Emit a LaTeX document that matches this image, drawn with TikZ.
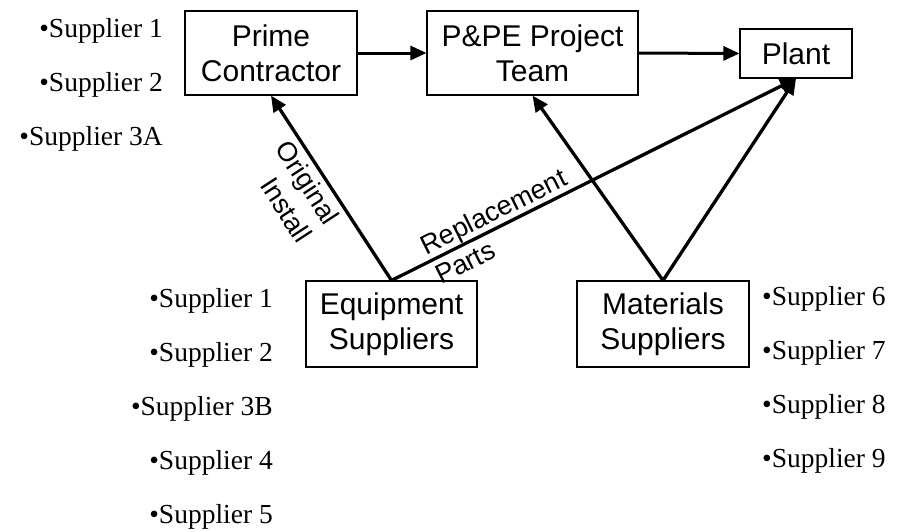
\documentclass[tikz,border=0pt]{standalone}
\usepackage{fontspec}
\setmainfont{Liberation Serif}
\setsansfont{Liberation Sans}
\usetikzlibrary{arrows.meta}
\begin{document}
\begin{tikzpicture}[x=1pt,y=-1pt,
  box/.style={draw, line width=1.1pt, inner sep=0pt, font=\sffamily\fontsize{30}{35}\selectfont, align=center},
  flow/.style={line width=3.3pt, -{Triangle[length=16pt,width=14pt]}},
  hflow/.style={line width=3pt, -{Triangle[length=16pt,width=14pt]}},
  lbl/.style={font=\sffamily\fontsize{27}{33}\selectfont, sloped},
  supl/.style={font=\fontsize{27.5}{30}\selectfont, inner sep=0pt, anchor=base east},
  supr/.style={font=\fontsize{27.5}{30}\selectfont, inner sep=0pt, anchor=base west}]
\useasboundingbox (0,0) rectangle (899,531);
\fill[white] (0,0) rectangle (899,531);

\node[box, minimum width=172pt, minimum height=84pt] (prime) at (271,53) {Prime\\Contractor};
\node[box, minimum width=211pt, minimum height=84pt] (team) at (532.5,53) {P\&PE Project\\Team};
\node[box, minimum width=112pt, minimum height=49pt] (plant) at (796,53.5) {Plant};
\node[box, minimum width=171pt, minimum height=86pt] (equip) at (391.5,324) {Equipment\\Suppliers};
\node[box, minimum width=172pt, minimum height=86pt] (mat) at (663,324) {Materials\\Suppliers};

\draw[hflow] (prime.east) -- (team.west);
\draw[hflow] (team.east) -- (plant.west);
\draw[flow] (equip.north) -- node[lbl, below, pos=0.579, inner sep=5pt, align=right] (oi) {Original\\Install} (prime.south);
\draw[flow] (equip.north) -- node[lbl, pos=0.27, inner sep=0pt, align=left] (rp) {Replacement\\Parts} (plant.south);
\draw[flow] (mat.north) -- (team.south);
\draw[flow] (mat.north) -- (plant.south);

\node[supl] (a1) at (163,37) {•Supplier 1};
\node[supl] (a2) at (163,91) {•Supplier 2};
\node[supl] (a3) at (163,145) {•Supplier 3A};

\node[supl] (b1) at (273,307) {•Supplier 1};
\node[supl] (b2) at (273,361) {•Supplier 2};
\node[supl] (b3) at (273,415) {•Supplier 3B};
\node[supl] (b4) at (273,469) {•Supplier 4};
\node[supl] (b5) at (273,523) {•Supplier 5};

\node[supr] (c6) at (762,305) {•Supplier 6};
\node[supr] (c7) at (762,359) {•Supplier 7};
\node[supr] (c8) at (762,413) {•Supplier 8};
\node[supr] (c9) at (762,467) {•Supplier 9};
\end{tikzpicture}
\end{document}
